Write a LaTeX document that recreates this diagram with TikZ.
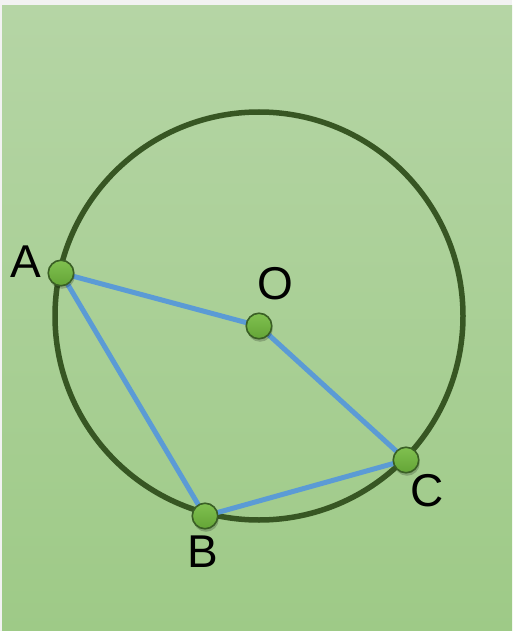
\documentclass[tikz,border=0pt]{standalone}
\usepackage{fontspec}
\setmainfont{Liberation Sans}
\usetikzlibrary{shadows}
\definecolor{bgtop}{HTML}{B5D5A5}
\definecolor{bgbot}{HTML}{9ECA87}
\definecolor{ringc}{HTML}{375623}
\definecolor{linec}{HTML}{5B9BD5}
\definecolor{dottop}{HTML}{80C050}
\definecolor{dotbot}{HTML}{64A536}
\definecolor{dotd}{HTML}{3A5F25}
\definecolor{edge}{HTML}{F2F2F2}
\begin{document}
\begin{tikzpicture}[x=1pt,y=-1pt,
  pt/.style={circle,minimum size=25.5pt,inner sep=0pt,draw=dotd,line width=1.6pt,
    top color=dottop,bottom color=dotbot,
    drop shadow={shadow xshift=1pt,shadow yshift=-3pt,opacity=0.2,fill=black}},
  lab/.style={font=\fontsize{46}{46}\selectfont,inner sep=0pt,text=black},
  seg/.style={draw=linec,line width=5pt}]
\useasboundingbox (0,0) rectangle (512,631);
\fill[edge] (0,0) rectangle (512,631);
\shade[top color=bgtop,bottom color=bgbot] (2,6) rectangle (512,631);
\draw[ringc,line width=5.5pt] (259,316) circle (204);
\coordinate (a) at (61,273);
\coordinate (b) at (205,516);
\coordinate (c) at (406,460);
\coordinate (o) at (259,326);
\draw[seg] (a) -- (o) -- (c) -- (b) -- (a);
\node[pt] (A) at (a) {};
\node[pt] (B) at (b) {};
\node[pt] (C) at (c) {};
\node[pt] (O) at (o) {};
\node[lab] (lA) at (26,262) {A};
\node[lab] (lO) at (275,284) {O};
\node[lab] (lC) at (427,491) {C};
\node[lab] (lB) at (203,552) {B};
\end{tikzpicture}
\end{document}
